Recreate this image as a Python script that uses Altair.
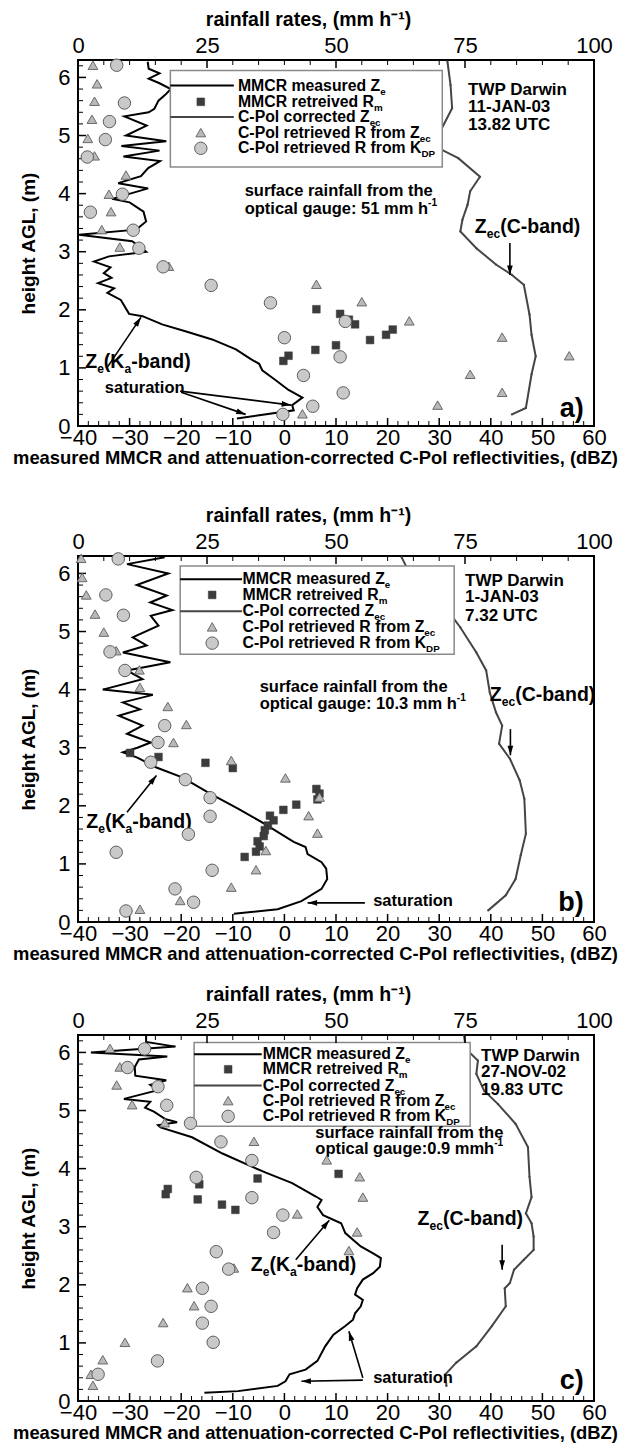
import math
import altair as alt
import pandas as pd

FONT = "Liberation Sans"
W, H = 516, 366
XMIN, XMAX = -40, 60
YMAX = 6.3
PXX = W / (XMAX - XMIN)
PXY = H / YMAX

# ---------------- Panel a ----------------
A_ZE_H = [6.27,6.15,6.07,5.98,5.90,5.80,5.70,5.60,5.46,5.40,5.33,5.17,5.00,4.90,4.82,4.74,4.64,4.56,4.44,4.30,4.18,4.09,3.91,3.85,3.69,3.52,3.38,3.29,3.18,3.00,2.92,2.83,2.73,2.63,2.55,2.46,2.37,2.29,2.17,1.93,1.89,1.75,1.63,1.49,1.32,1.15,1.07,0.96,0.81,0.62,0.49,0.36,0.27,0.13]
A_ZE_V = [-26.5,-26.3,-24.2,-26.3,-24.2,-22.0,-23.1,-24.4,-25.2,-26.3,-31.0,-26.7,-30.7,-22.9,-31.6,-24.2,-31.2,-24.1,-26.4,-27.8,-32.2,-26.4,-33.4,-30.0,-27.3,-26.8,-28.7,-39.8,-29.5,-26.8,-34.0,-36.9,-33.7,-35.0,-33.5,-36.1,-33.0,-34.3,-31.7,-30.1,-27.5,-23.7,-19.2,-14.0,-9.4,-6.5,-4.9,-4.3,-2.0,0.8,3.5,1.5,1.8,-9.2]
A_ZEC_H = [6.27,5.87,5.47,4.95,4.75,4.61,4.29,4.04,3.81,3.55,3.35,3.06,2.78,2.60,2.43,1.92,1.57,1.20,0.89,0.31,0.20]
A_ZEC_V = [31.6,32.2,32.5,29.5,30.6,33.7,37.9,36.0,35.5,34.5,34.1,37.2,41.0,44.1,46.4,47.5,47.9,48.7,47.9,46.8,44.1]
A_SQ_R = [46.2,50.8,52.5,53.7,59.7,61.0,56.6,50.0,46.0,40.8,39.8]
A_SQ_H = [2.01,1.93,1.83,1.75,1.57,1.66,1.48,1.39,1.31,1.21,1.12]
A_TR_R = [2.9,3.7,3.2,2.7,1.9,3.2,9.3,6.0,6.4,4.6,8.1,17.6,46.2,55.0,64.2,82.2,95.2,76.0,82.2,69.7,43.5]
A_TR_H = [6.21,5.89,5.59,5.28,4.95,4.65,4.32,3.99,3.69,3.38,3.08,2.75,2.44,2.14,1.81,1.53,1.21,0.89,0.58,0.36,0.21]
A_CI_R = [7.5,9.0,6.1,5.3,1.8,8.6,2.4,10.7,11.8,16.5,25.8,37.3,40.0,50.8,43.7,51.4,45.5,39.7,51.8]
A_CI_H = [6.21,5.56,5.24,4.93,4.63,3.99,3.68,3.37,3.06,2.74,2.42,2.12,1.52,1.19,0.87,0.57,0.34,0.20,1.80]

# ---------------- Panel b ----------------
B_ZE_H = [6.28,6.16,6.00,5.80,5.62,5.50,5.37,5.27,5.10,4.90,4.76,4.64,4.47,4.33,4.18,4.00,3.91,3.78,3.66,3.55,3.38,3.24,3.09,3.00,2.92,2.83,2.66,2.49,2.21,1.95,1.72,1.38,1.29,1.17,1.03,0.92,0.74,0.57,0.36,0.22,0.14]
B_ZE_V = [-23.2,-30.5,-22.5,-28.6,-22.8,-26.0,-21.7,-25.9,-24.4,-29.4,-26.7,-31.3,-22.1,-30.5,-27.5,-35.2,-25.5,-31.3,-28.0,-32.1,-27.5,-30.5,-25.9,-28.5,-31.3,-28.5,-24.8,-19.8,-14.4,-9.0,-4.4,1.8,4.1,4.5,7.2,8.1,8.3,7.2,3.3,-1.3,-9.8]
B_ZEC_H = [6.28,5.96,5.64,5.30,5.07,4.64,4.33,3.95,3.61,3.38,3.07,2.81,2.44,2.12,1.52,1.15,0.74,0.46,0.20]
B_ZEC_V = [22.7,24.5,27.9,32.2,34.1,37.2,39.1,39.8,41.0,42.2,41.6,43.7,45.6,46.5,46.8,45.8,44.8,42.9,39.5]
B_SQ_R = [10.1,15.6,24.7,30.0,46.2,46.8,46.4,42.3,39.8,37.2,37.9,36.8,36.2,36.0,34.8,35.2,34.5,32.3]
B_SQ_H = [2.91,2.84,2.74,2.65,2.29,2.21,2.11,2.02,1.93,1.83,1.75,1.66,1.58,1.48,1.39,1.30,1.21,1.12]
B_TR_R = [0.6,0.8,1.6,3.3,5.0,7.4,11.9,12.0,17.4,21.0,18.5,29.7,40.2,46.8,44.7,46.4,36.4,34.5,29.7,19.8,12.0]
B_TR_H = [6.26,5.93,5.63,5.30,4.99,4.67,4.34,4.04,3.71,3.40,3.09,2.78,2.48,2.15,1.83,1.53,1.23,0.90,0.60,0.37,0.22]
B_CI_R = [7.8,5.4,8.8,6.2,9.1,16.8,15.5,14.1,20.8,25.6,25.6,21.4,7.4,26.0,18.8,22.4,9.3]
B_CI_H = [6.25,5.63,5.28,4.65,4.33,3.38,3.09,2.75,2.45,2.14,1.82,1.51,1.20,0.89,0.57,0.34,0.19]

# ---------------- Panel c ----------------
C_ZE_H = [6.30,6.18,6.10,6.00,5.93,5.88,5.75,5.60,5.52,5.44,5.35,5.20,5.15,5.05,4.98,4.85,4.80,4.75,4.71,4.54,4.26,4.03,3.93,3.75,3.52,3.46,3.34,3.20,3.06,2.89,2.66,2.54,2.46,2.31,2.20,2.09,1.94,1.83,1.74,1.63,1.51,1.40,1.29,1.14,0.94,0.69,0.54,0.46,0.34,0.26,0.17,0.14]
C_ZE_V = [-26.8,-26.8,-21.1,-37.5,-22.7,-28.2,-29.0,-28.9,-22.9,-26.0,-24.5,-31.1,-26.0,-27.0,-25.3,-23.0,-20.8,-24.5,-24.0,-17.9,-12.0,-6.2,-3.6,1.5,6.1,7.2,6.4,7.5,11.0,11.8,14.8,17.2,18.7,18.5,17.2,15.2,14.1,13.7,15.2,14.8,13.7,13.3,11.8,9.5,7.9,6.4,4.1,1.0,0.2,-1.3,-9.0,-15.5]
C_ZEC_H = [6.29,6.06,5.86,5.63,5.34,5.11,4.77,4.37,3.86,3.51,3.23,3.06,2.83,2.60,2.43,2.26,2.03,1.94,1.63,1.29,0.94,0.66,0.46,0.26]
C_ZEC_V = [34.8,35.2,37.5,37.2,38.7,41.4,44.8,47.2,47.5,47.9,46.8,47.9,48.3,48.3,46.4,44.5,43.7,42.7,42.9,40.2,37.2,33.3,31.2,31.4]
C_SQ_R = [50.5,34.8,23.5,17.4,17.0,23.2,27.9,30.5]
C_SQ_H = [3.91,3.83,3.73,3.65,3.56,3.47,3.38,3.29]
C_TR_R = [6.2,8.1,7.5,10.5,16.8,34.1,48.2,54.6,55.2,42.5,54.1,52.5,30.2,21.2,22.5,16.5,9.1,4.8,2.5,2.9]
C_TR_H = [6.07,5.75,5.44,5.10,4.79,4.47,4.15,3.86,3.51,3.22,2.91,2.59,2.29,1.95,1.64,1.35,1.01,0.71,0.46,0.27]
C_CI_R = [12.9,9.6,15.5,17.2,21.8,27.7,33.7,22.9,33.7,39.7,37.9,26.8,29.2,24.1,25.8,24.1,26.2,15.4,3.9]
C_CI_H = [6.06,5.74,5.41,5.09,4.78,4.46,4.14,3.85,3.50,3.20,2.90,2.57,2.27,1.94,1.63,1.34,1.01,0.69,0.46]

LEGEND_LABELS = [
    [("MMCR measured Z", "n"), ("e", "sub")],
    [("MMCR retreived R", "n"), ("m", "sub")],
    [("C-Pol corrected Z", "n"), ("ec", "sub")],
    [("C-Pol retrieved R from Z", "n"), ("ec", "sub")],
    [("C-Pol retrieved R from K", "n"), ("DP", "sub")],
]

PANELS = [
    dict(ze=(A_ZE_V, A_ZE_H), zec=(A_ZEC_V, A_ZEC_H), sq=(A_SQ_R, A_SQ_H), tr=(A_TR_R, A_TR_H), ci=(A_CI_R, A_CI_H),
         info=(35.6, [5.78, 5.49, 5.18], ["TWP Darwin", "11-JAN-03", "13.82 UTC"]),
         gauge=(-7.7, [4.04, 3.73], "optical gauge: 51 mm h"),
         zec_lab=(36.9, 3.43), ze_lab=(-38.6, 1.10), sat=(-34.8, 0.66), letter=("a)", 58.0, 0.29),
         arrows=[(-34.4, 1.0, -27.8, 1.87), (-20.2, 0.60, 1.3, 0.36), (-20.0, 0.58, -7.5, 0.20), (43.7, 3.15, 43.7, 2.60)],
         leg=dict(box=(-22.1, 4.46, 30.6, 6.12), rows=[5.86, 5.58, 5.32, 5.05, 4.78], line=(-22.1, -9.8), mx=-16.2, tx=-9.0)),
    dict(ze=(B_ZE_V, B_ZE_H), zec=(B_ZEC_V, B_ZEC_H), sq=(B_SQ_R, B_SQ_H), tr=(B_TR_R, B_TR_H), ci=(B_CI_R, B_CI_H),
         info=(35.0, [5.87, 5.59, 5.27], ["TWP Darwin", "1-JAN-03", "7.32 UTC"]),
         gauge=(-4.8, [4.04, 3.75], "optical gauge: 10.3 mm h"),
         zec_lab=(39.8, 3.90), ze_lab=(-38.4, 1.72), sat=(17.2, 0.37), letter=("b)", 58.0, 0.32),
         arrows=[(-30.5, 1.89, -24.8, 2.52), (15.6, 0.33, 4.5, 0.33), (43.8, 3.32, 43.8, 2.87)],
         leg=dict(box=(-20.2, 4.61, 32.9, 6.13), rows=[5.90, 5.63, 5.35, 5.08, 4.80], line=(-20.2, -8.2), mx=-14.0, tx=-8.1)),
    dict(ze=(C_ZE_V, C_ZE_H), zec=(C_ZEC_V, C_ZEC_H), sq=(C_SQ_R, C_SQ_H), tr=(C_TR_R, C_TR_H), ci=(C_CI_R, C_CI_H),
         info=(38.1, [5.94, 5.66, 5.35], ["TWP Darwin", "27-NOV-02", "19.83 UTC"]),
         gauge=(6.0, [4.61, 4.33], "optical gauge:0.9 mmh"),
         zec_lab=(25.8, 3.13), ze_lab=(-6.5, 2.34), sat=(17.2, 0.40), letter=("c)", 58.0, 0.34),
         arrows=[(2.2, 2.43, 8.7, 3.11), (15.2, 0.40, 12.5, 1.20), (15.2, 0.36, 3.3, 0.34), (42.2, 2.69, 42.2, 2.26)],
         leg=dict(box=(-17.5, 4.73, 36.0, 6.17), rows=[5.97, 5.71, 5.43, 5.17, 4.90], line=(-17.5, -4.4), mx=-10.9, tx=-4.2)),
]

# Arial/Liberation Sans Bold advance widths (per 1000 em)
AW = {' ': 278, '!': 333, '(': 333, ')': 333, ',': 278, '-': 333, '.': 278, ':': 333,
      'A': 722, 'B': 722, 'C': 722, 'D': 722, 'E': 667, 'F': 611, 'G': 778, 'H': 722, 'I': 278, 'J': 556,
      'K': 722, 'L': 611, 'M': 833, 'N': 722, 'O': 778, 'P': 667, 'Q': 778, 'R': 722, 'S': 667, 'T': 611,
      'U': 722, 'V': 667, 'W': 944, 'X': 667, 'Y': 667, 'Z': 611,
      'a': 556, 'b': 611, 'c': 556, 'd': 611, 'e': 556, 'f': 333, 'g': 611, 'h': 611, 'i': 278, 'j': 278,
      'k': 556, 'l': 278, 'm': 889, 'n': 611, 'o': 611, 'p': 611, 'q': 611, 'r': 389, 's': 556, 't': 333,
      'u': 611, 'v': 556, 'w': 778, 'x': 556, 'y': 556, 'z': 500}
for _d in "0123456789":
    AW[_d] = 556


def tw(s, size):
    return sum(AW.get(c, 556) for c in s) * size / 1000.0


def rich(x, y, parts, size, align="left"):
    def fs(r):
        return size if r == "n" else round(size * 0.62, 1)
    total = sum(tw(t, fs(r)) for t, r in parts)
    cx = x - (total / PXX if align == "right" else 0.0)
    rows = []
    for t, r in parts:
        s = fs(r)
        if r == "n":
            dy = 0
        elif r == "sub":
            dy = round(size * 0.36)
        else:
            dy = -round(size * 0.38)
        rows.append(dict(x=cx, y=y, t=t, s=s, dy=dy))
        cx += tw(t, s) / PXX
    return rows


XS = alt.Scale(domain=[XMIN, XMAX], nice=False, zero=False)
RS = alt.Scale(domain=[0, 100], nice=False, zero=False)
YS = alt.Scale(domain=[0, YMAX], nice=False, zero=False)

BOTTOM_AXIS = alt.Axis(values=list(range(-40, 61, 10)), format="d",
                       title="measured MMCR and attenuation-corrected C-Pol reflectivities, (dBZ)",
                       labelFont=FONT, labelFontSize=22, labelColor="black", labelPadding=1,
                       titleFont=FONT, titleFontSize=18.4, titleFontWeight="bold", titleColor="black",
                       titlePadding=0, titleX=237, titleAlign="center",
                       ticks=False, domain=False, grid=False, labelFlush=False, labelOverlap=False)
TOP_AXIS = alt.Axis(orient="top", values=[0, 25, 50, 75, 100], format="d",
                    title="rainfall rates, (mm h⁻¹)",
                    labelFont=FONT, labelFontSize=22, labelColor="black", labelPadding=3,
                    titleFont=FONT, titleFontSize=19.5, titleFontWeight="bold", titleColor="black",
                    titlePadding=5, titleX=230, titleAlign="center",
                    ticks=False, domain=False, grid=False, labelFlush=False, labelOverlap=False)
LEFT_AXIS = alt.Axis(values=[0, 1, 2, 3, 4, 5, 6], format="d", title="height AGL, (m)",
                     labelFont=FONT, labelFontSize=22, labelColor="black", labelPadding=8,
                     titleFont=FONT, titleFontSize=19, titleFontWeight="bold", titleColor="black",
                     titlePadding=19, ticks=False, domain=False, grid=False, labelFlush=False)


def X(f):
    return alt.X(f, type="quantitative", scale=XS, axis=BOTTOM_AXIS)


def R(f):
    return alt.X(f, type="quantitative", scale=RS, axis=TOP_AXIS)


def Y(f):
    return alt.Y(f, type="quantitative", scale=YS, axis=LEFT_AXIS)


def text_layers(rows, color="black"):
    df = pd.DataFrame(rows)
    out = []
    for dy in sorted(df["dy"].unique()):
        sub = df[df["dy"] == dy]
        out.append(alt.Chart(sub).mark_text(align="left", baseline="middle", dy=float(dy), font=FONT,
                                            fontWeight="bold", color=color)
                   .encode(x=X("x"), y=Y("y"), text="t:N", size=alt.Size("s:Q", scale=None)))
    return out


def point_mark(kind):
    if kind == "sq":
        return dict(shape="square", filled=True, fill="#3c3c3c", stroke="#3c3c3c", strokeWidth=0.5, size=60, opacity=1)
    if kind == "tr":
        return dict(shape="triangle-up", filled=True, fill="#b9b9b9", stroke="#6a6a6a", strokeWidth=1, size=95, opacity=1)
    return dict(shape="circle", filled=True, fill="#c9c9c9", stroke="#5e5e5e", strokeWidth=1, size=155, opacity=1)


def panel(p):
    dbz_layers = []
    rain_layers = []

    # inward ticks: bottom and left (dBZ group)
    minor_x = pd.DataFrame({"v": [v for v in range(-38, 60, 2) if v % 10 != 0]})
    major_x = pd.DataFrame({"v": list(range(-30, 60, 10))})
    dbz_layers.append(alt.Chart(minor_x).mark_rule(color="black", strokeWidth=1)
                      .encode(x=X("v"), y=alt.value(H), y2=alt.value(H - 5)))
    dbz_layers.append(alt.Chart(major_x).mark_rule(color="black", strokeWidth=1.5)
                      .encode(x=X("v"), y=alt.value(H), y2=alt.value(H - 8)))
    minor_y = pd.DataFrame({"v": [round(i * 0.2, 1) for i in range(1, 32) if i % 5 != 0]})
    major_y = pd.DataFrame({"v": [1, 2, 3, 4, 5, 6]})
    dbz_layers.append(alt.Chart(minor_y).mark_rule(color="black", strokeWidth=1)
                      .encode(y=Y("v"), x=alt.value(0), x2=alt.value(5)))
    dbz_layers.append(alt.Chart(major_y).mark_rule(color="black", strokeWidth=1.5)
                      .encode(y=Y("v"), x=alt.value(0), x2=alt.value(8)))

    # profiles
    zv, zh = p["ze"]
    df_ze = pd.DataFrame({"v": zv, "h": zh, "i": range(len(zv))})
    dbz_layers.append(alt.Chart(df_ze).mark_line(color="black", strokeWidth=2)
                      .encode(x=X("v"), y=Y("h"), order="i:Q"))
    cv, ch = p["zec"]
    df_zec = pd.DataFrame({"v": cv, "h": ch, "i": range(len(cv))})
    dbz_layers.append(alt.Chart(df_zec).mark_line(color="#454545", strokeWidth=2,
                                                  point=alt.OverlayMarkDef(size=5, color="#454545", filled=True))
                      .encode(x=X("v"), y=Y("h"), order="i:Q"))

    # legend box
    lg = p["leg"]
    bx0, by0, bx1, by1 = lg["box"]
    dbz_layers.append(alt.Chart(pd.DataFrame([dict(x=bx0, y=by0, x2=bx1, y2=by1)]))
                      .mark_rect(fill="white", stroke="#8a8a8a", strokeWidth=1.5)
                      .encode(x=X("x"), x2="x2", y=Y("y"), y2="y2"))
    rows = lg["rows"]
    l0, l1 = lg["line"]
    dbz_layers.append(alt.Chart(pd.DataFrame([dict(x=l0, x2=l1, y=rows[0])]))
                      .mark_rule(color="black", strokeWidth=2).encode(x=X("x"), x2="x2", y=Y("y")))
    dbz_layers.append(alt.Chart(pd.DataFrame([dict(x=l0, x2=l1, y=rows[2])]))
                      .mark_rule(color="#454545", strokeWidth=2).encode(x=X("x"), x2="x2", y=Y("y")))
    for kind, yy in (("sq", rows[1]), ("tr", rows[3]), ("ci", rows[4])):
        dbz_layers.append(alt.Chart(pd.DataFrame([dict(x=lg["mx"], y=yy)]))
                          .mark_point(**point_mark(kind)).encode(x=X("x"), y=Y("y")))
    trows = []
    for lab, yy in zip(LEGEND_LABELS, rows):
        trows += rich(lg["tx"], yy, lab, 15.8)

    # annotations
    ix, iys, itxt = p["info"]
    for t, yy in zip(itxt, iys):
        trows += rich(ix, yy, [(t, "n")], 17)
    gx, gys, gtxt = p["gauge"]
    trows += rich(gx, gys[0], [("surface rainfall from the", "n")], 16.5)
    trows += rich(gx, gys[1], [(gtxt, "n"), ("-1", "sup")], 16.5)
    trows += rich(p["zec_lab"][0], p["zec_lab"][1], [("Z", "n"), ("ec", "sub"), ("(C-band)", "n")], 19.5)
    trows += rich(p["ze_lab"][0], p["ze_lab"][1], [("Z", "n"), ("e", "sub"), ("(K", "n"), ("a", "sub"), ("-band)", "n")], 19.5)
    trows += rich(p["sat"][0], p["sat"][1], [("saturation", "n")], 16.5)
    lt, lx, ly = p["letter"]
    trows += rich(lx, ly, [(lt, "n")], 27, align="right")
    dbz_layers += text_layers(trows)

    # arrows
    arr = []
    for x0, y0, x1, y1 in p["arrows"]:
        ang = math.degrees(math.atan2((x1 - x0) * PXX, (y1 - y0) * PXY)) % 360
        arr.append(dict(x=x0, y=y0, x2=x1, y2=y1, ang=ang))
    df_arr = pd.DataFrame(arr)
    dbz_layers.append(alt.Chart(df_arr).mark_rule(color="black", strokeWidth=1.6)
                      .encode(x=X("x"), y=Y("y"), x2="x2", y2="y2"))
    dbz_layers.append(alt.Chart(df_arr).mark_point(shape="M0,0L0.6,2L-0.6,2Z", filled=True, color="black",
                                                   size=90, opacity=1)
                      .encode(x=X("x2"), y=Y("y2"), angle=alt.Angle("ang:Q", scale=None)))

    # rainfall group: top ticks + retrieved rain rates
    minor_r = pd.DataFrame({"v": [v for v in range(5, 100, 5) if v % 25 != 0]})
    major_r = pd.DataFrame({"v": [25, 50, 75]})
    rain_layers.append(alt.Chart(minor_r).mark_rule(color="black", strokeWidth=1)
                       .encode(x=R("v"), y=alt.value(0), y2=alt.value(5)))
    rain_layers.append(alt.Chart(major_r).mark_rule(color="black", strokeWidth=1.5)
                       .encode(x=R("v"), y=alt.value(0), y2=alt.value(8)))
    for kind in ("sq", "tr", "ci"):
        rr, hh = p[kind]
        rain_layers.append(alt.Chart(pd.DataFrame({"r": rr, "h": hh}))
                           .mark_point(**point_mark(kind)).encode(x=R("r"), y=Y("h")))

    return (alt.layer(alt.layer(*dbz_layers), alt.layer(*rain_layers))
            .resolve_scale(x="independent")
            .properties(width=W, height=H))


pa, pb, pc = (panel(p) for p in PANELS)
chart = (alt.vconcat(pa, alt.vconcat(pb, pc, spacing=19), spacing=36)
         .properties(padding={"left": 11, "top": 8, "right": 0, "bottom": 0}, background="white")
         .configure_view(stroke="black", strokeWidth=2))

chart.save("out.html", embed_options={"renderer": "svg", "actions": False})
